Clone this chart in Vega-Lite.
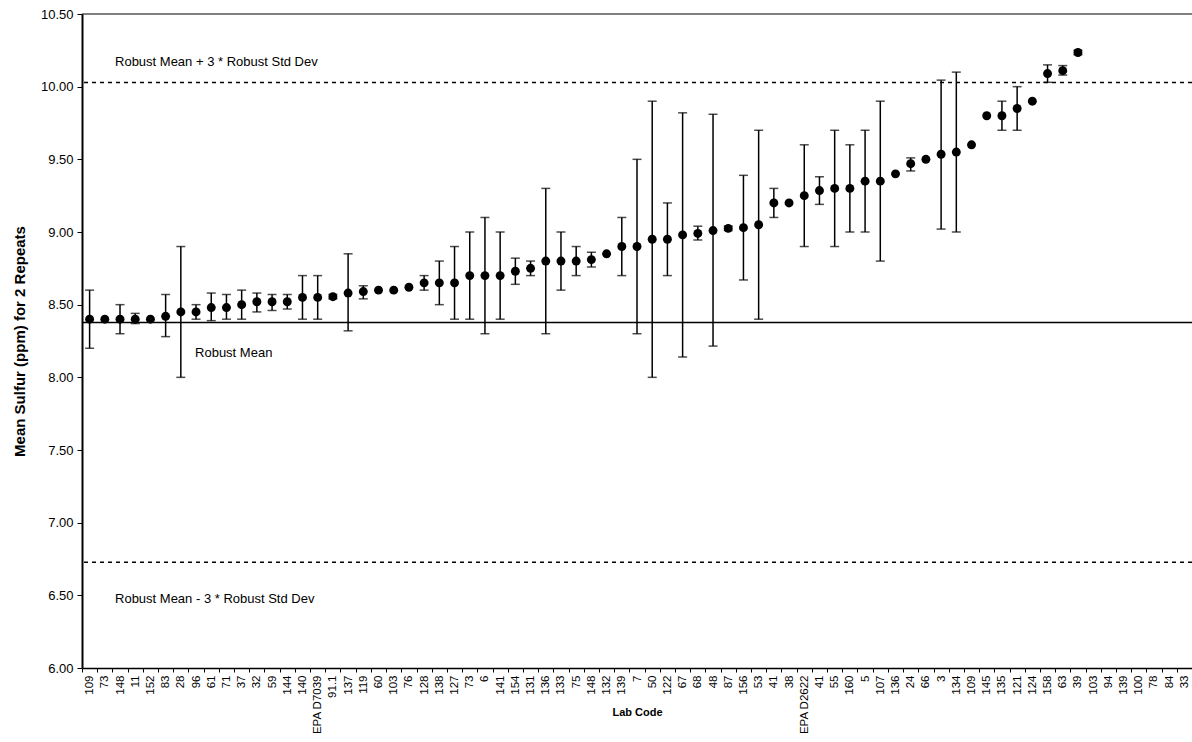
{
  "$schema": "https://vega.github.io/schema/vega-lite/v6.json",
  "width": 1110,
  "height": 654,
  "autosize": "none",
  "padding": {"left": 82, "top": 14, "right": 0, "bottom": 74},
  "background": "white",
  "config": {
    "font": "Liberation Sans",
    "view": {"stroke": null},
    "axis": {"domainColor": "black", "tickColor": "black", "labelColor": "black", "titleColor": "black", "grid": false}
  },
  "data": {"values": [
    {"key": "00|109", "code": "109", "mean": 8.40, "lo": 8.20, "hi": 8.60},
    {"key": "01|73", "code": "73", "mean": 8.40, "lo": null, "hi": null},
    {"key": "02|148", "code": "148", "mean": 8.40, "lo": 8.30, "hi": 8.50},
    {"key": "03|11", "code": "11", "mean": 8.40, "lo": 8.37, "hi": 8.44},
    {"key": "04|152", "code": "152", "mean": 8.40, "lo": null, "hi": null},
    {"key": "05|83", "code": "83", "mean": 8.42, "lo": 8.28, "hi": 8.57},
    {"key": "06|28", "code": "28", "mean": 8.45, "lo": 8.00, "hi": 8.90},
    {"key": "07|96", "code": "96", "mean": 8.45, "lo": 8.40, "hi": 8.50},
    {"key": "08|61", "code": "61", "mean": 8.48, "lo": 8.39, "hi": 8.58},
    {"key": "09|71", "code": "71", "mean": 8.48, "lo": 8.40, "hi": 8.57},
    {"key": "10|37", "code": "37", "mean": 8.50, "lo": 8.40, "hi": 8.60},
    {"key": "11|32", "code": "32", "mean": 8.52, "lo": 8.45, "hi": 8.58},
    {"key": "12|59", "code": "59", "mean": 8.52, "lo": 8.46, "hi": 8.57},
    {"key": "13|144", "code": "144", "mean": 8.52, "lo": 8.47, "hi": 8.57},
    {"key": "14|140", "code": "140", "mean": 8.55, "lo": 8.40, "hi": 8.70},
    {"key": "15|EPA D7039", "code": "EPA D7039", "mean": 8.55, "lo": 8.40, "hi": 8.70},
    {"key": "16|91.1", "code": "91.1", "mean": 8.555, "lo": 8.54, "hi": 8.57},
    {"key": "17|137", "code": "137", "mean": 8.58, "lo": 8.32, "hi": 8.85},
    {"key": "18|119", "code": "119", "mean": 8.59, "lo": 8.54, "hi": 8.63},
    {"key": "19|60", "code": "60", "mean": 8.60, "lo": null, "hi": null},
    {"key": "20|103", "code": "103", "mean": 8.60, "lo": null, "hi": null},
    {"key": "21|76", "code": "76", "mean": 8.62, "lo": null, "hi": null},
    {"key": "22|128", "code": "128", "mean": 8.65, "lo": 8.60, "hi": 8.70},
    {"key": "23|138", "code": "138", "mean": 8.65, "lo": 8.50, "hi": 8.80},
    {"key": "24|127", "code": "127", "mean": 8.65, "lo": 8.40, "hi": 8.90},
    {"key": "25|73", "code": "73", "mean": 8.70, "lo": 8.40, "hi": 9.00},
    {"key": "26|6", "code": "6", "mean": 8.70, "lo": 8.30, "hi": 9.10},
    {"key": "27|141", "code": "141", "mean": 8.70, "lo": 8.40, "hi": 9.00},
    {"key": "28|154", "code": "154", "mean": 8.73, "lo": 8.64, "hi": 8.82},
    {"key": "29|131", "code": "131", "mean": 8.75, "lo": 8.70, "hi": 8.80},
    {"key": "30|136", "code": "136", "mean": 8.80, "lo": 8.30, "hi": 9.30},
    {"key": "31|133", "code": "133", "mean": 8.80, "lo": 8.60, "hi": 9.00},
    {"key": "32|75", "code": "75", "mean": 8.80, "lo": 8.70, "hi": 8.90},
    {"key": "33|148", "code": "148", "mean": 8.81, "lo": 8.76, "hi": 8.86},
    {"key": "34|132", "code": "132", "mean": 8.85, "lo": null, "hi": null},
    {"key": "35|139", "code": "139", "mean": 8.90, "lo": 8.70, "hi": 9.10},
    {"key": "36|7", "code": "7", "mean": 8.90, "lo": 8.30, "hi": 9.50},
    {"key": "37|50", "code": "50", "mean": 8.95, "lo": 8.00, "hi": 9.90},
    {"key": "38|122", "code": "122", "mean": 8.95, "lo": 8.70, "hi": 9.20},
    {"key": "39|67", "code": "67", "mean": 8.98, "lo": 8.14, "hi": 9.82},
    {"key": "40|68", "code": "68", "mean": 8.99, "lo": 8.945, "hi": 9.04},
    {"key": "41|48", "code": "48", "mean": 9.01, "lo": 8.215, "hi": 9.81},
    {"key": "42|87", "code": "87", "mean": 9.025, "lo": 9.01, "hi": 9.04},
    {"key": "43|156", "code": "156", "mean": 9.03, "lo": 8.67, "hi": 9.39},
    {"key": "44|53", "code": "53", "mean": 9.05, "lo": 8.40, "hi": 9.70},
    {"key": "45|41", "code": "41", "mean": 9.20, "lo": 9.10, "hi": 9.30},
    {"key": "46|38", "code": "38", "mean": 9.20, "lo": null, "hi": null},
    {"key": "47|EPA D2622", "code": "EPA D2622", "mean": 9.25, "lo": 8.90, "hi": 9.60},
    {"key": "48|41", "code": "41", "mean": 9.285, "lo": 9.19, "hi": 9.38},
    {"key": "49|55", "code": "55", "mean": 9.30, "lo": 8.90, "hi": 9.70},
    {"key": "50|160", "code": "160", "mean": 9.30, "lo": 9.00, "hi": 9.60},
    {"key": "51|5", "code": "5", "mean": 9.35, "lo": 9.00, "hi": 9.70},
    {"key": "52|107", "code": "107", "mean": 9.35, "lo": 8.80, "hi": 9.90},
    {"key": "53|136", "code": "136", "mean": 9.40, "lo": null, "hi": null},
    {"key": "54|24", "code": "24", "mean": 9.47, "lo": 9.42, "hi": 9.51},
    {"key": "55|66", "code": "66", "mean": 9.50, "lo": null, "hi": null},
    {"key": "56|3", "code": "3", "mean": 9.535, "lo": 9.02, "hi": 10.045},
    {"key": "57|134", "code": "134", "mean": 9.55, "lo": 9.00, "hi": 10.10},
    {"key": "58|109", "code": "109", "mean": 9.60, "lo": null, "hi": null},
    {"key": "59|145", "code": "145", "mean": 9.80, "lo": null, "hi": null},
    {"key": "60|135", "code": "135", "mean": 9.80, "lo": 9.70, "hi": 9.90},
    {"key": "61|121", "code": "121", "mean": 9.85, "lo": 9.70, "hi": 10.00},
    {"key": "62|124", "code": "124", "mean": 9.90, "lo": null, "hi": null},
    {"key": "63|158", "code": "158", "mean": 10.09, "lo": 10.03, "hi": 10.15},
    {"key": "64|63", "code": "63", "mean": 10.11, "lo": 10.08, "hi": 10.145},
    {"key": "65|39", "code": "39", "mean": 10.235, "lo": 10.22, "hi": 10.25},
    {"key": "66|103", "code": "103", "mean": null, "lo": null, "hi": null},
    {"key": "67|94", "code": "94", "mean": null, "lo": null, "hi": null},
    {"key": "68|139", "code": "139", "mean": null, "lo": null, "hi": null},
    {"key": "69|100", "code": "100", "mean": null, "lo": null, "hi": null},
    {"key": "70|78", "code": "78", "mean": null, "lo": null, "hi": null},
    {"key": "71|84", "code": "84", "mean": null, "lo": null, "hi": null},
    {"key": "72|33", "code": "33", "mean": null, "lo": null, "hi": null}
  ]},
  "encoding": {
    "x": {
      "field": "key", "type": "nominal", "sort": null,
      "scale": {"type": "band", "paddingInner": 0, "paddingOuter": 0,
        "domain": ["00|109","01|73","02|148","03|11","04|152","05|83","06|28","07|96","08|61","09|71","10|37","11|32","12|59","13|144","14|140","15|EPA D7039","16|91.1","17|137","18|119","19|60","20|103","21|76","22|128","23|138","24|127","25|73","26|6","27|141","28|154","29|131","30|136","31|133","32|75","33|148","34|132","35|139","36|7","37|50","38|122","39|67","40|68","41|48","42|87","43|156","44|53","45|41","46|38","47|EPA D2622","48|41","49|55","50|160","51|5","52|107","53|136","54|24","55|66","56|3","57|134","58|109","59|145","60|135","61|121","62|124","63|158","64|63","65|39","66|103","67|94","68|139","69|100","70|78","71|84","72|33"]},
      "axis": {
        "title": "Lab Code", "titleFontSize": 11, "titleFontWeight": "bold",
        "titleY": 44, "titleBaseline": "middle",
        "labelExpr": "split(datum.label, '|')[1]",
        "labelAngle": -90, "labelFontSize": 11.5, "labelPadding": 3, "labelOverlap": false, "labelBound": false,
        "tickBand": "extent", "tickSize": 4, "tickWidth": 1, "domainWidth": 1.5
      }
    }
  },
  "layer": [
    {
      "data": {"values": [{}]},
      "mark": {"type": "rule", "color": "black", "strokeWidth": 1},
      "encoding": {"y": {"datum": 10.5, "type": "quantitative"}, "x": null}
    },
    {
      "data": {"values": [{}]},
      "mark": {"type": "rule", "color": "black", "strokeWidth": 1.5},
      "encoding": {"y": {"datum": 8.378, "type": "quantitative"}, "x": null}
    },
    {
      "data": {"values": [{}]},
      "mark": {"type": "rule", "color": "black", "strokeWidth": 1.5, "strokeDash": [4, 4]},
      "encoding": {"y": {"datum": 10.029, "type": "quantitative"}, "x": null}
    },
    {
      "data": {"values": [{}]},
      "mark": {"type": "rule", "color": "black", "strokeWidth": 1.5, "strokeDash": [4, 4]},
      "encoding": {"y": {"datum": 6.727, "type": "quantitative"}, "x": null}
    },
    {
      "mark": {"type": "rule", "color": "black", "strokeWidth": 1.5},
      "encoding": {
        "y": {"field": "lo", "type": "quantitative",
          "scale": {"domain": [6, 10.5], "nice": false, "zero": false},
          "axis": {"title": "Mean Sulfur (ppm) for 2 Repeats", "titleFontSize": 15, "titleFontWeight": "bold", "titlePadding": 13,
            "values": [6, 6.5, 7, 7.5, 8, 8.5, 9, 9.5, 10, 10.5], "format": ".2f",
            "labelFontSize": 13, "labelPadding": 4, "tickSize": 5, "domainWidth": 2}},
        "y2": {"field": "hi"}
      }
    },
    {
      "mark": {"type": "tick", "orient": "horizontal", "color": "black", "size": 9, "thickness": 1.5},
      "encoding": {"y": {"field": "lo", "type": "quantitative"}}
    },
    {
      "mark": {"type": "tick", "orient": "horizontal", "color": "black", "size": 9, "thickness": 1.5},
      "encoding": {"y": {"field": "hi", "type": "quantitative"}}
    },
    {
      "mark": {"type": "point", "shape": "circle", "filled": true, "color": "black", "opacity": 1, "size": 80},
      "encoding": {"y": {"field": "mean", "type": "quantitative"}}
    },
    {
      "data": {"values": [{}]},
      "mark": {"type": "text", "text": "Robust Mean + 3 * Robust Std Dev", "align": "left", "baseline": "middle", "fontSize": 13, "color": "black", "dx": -5},
      "encoding": {"x": {"datum": "02|148"}, "y": {"datum": 10.17, "type": "quantitative"}}
    },
    {
      "data": {"values": [{}]},
      "mark": {"type": "text", "text": "Robust Mean", "align": "left", "baseline": "middle", "fontSize": 13, "color": "black", "dx": -1},
      "encoding": {"x": {"datum": "07|96"}, "y": {"datum": 8.17, "type": "quantitative"}}
    },
    {
      "data": {"values": [{}]},
      "mark": {"type": "text", "text": "Robust Mean - 3 * Robust Std Dev", "align": "left", "baseline": "middle", "fontSize": 13, "color": "black", "dx": -5},
      "encoding": {"x": {"datum": "02|148"}, "y": {"datum": 6.472, "type": "quantitative"}}
    }
  ]
}
